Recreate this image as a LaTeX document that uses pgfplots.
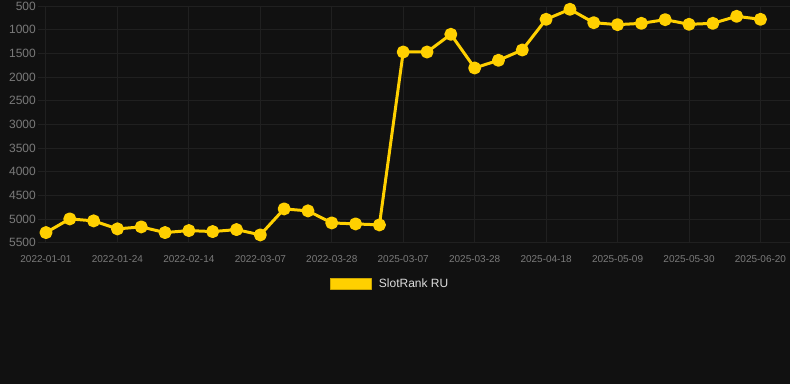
\documentclass[border=0pt]{standalone}
\usepackage{fontspec}
\setmainfont{Liberation Sans}
\usepackage{pgfplots}
\usepackage{pgfplotstable}
\pgfplotsset{compat=1.18}
\definecolor{bg}{HTML}{111111}
\definecolor{gold}{HTML}{FFD000}
\definecolor{gridc}{HTML}{202020}
\definecolor{tickc}{HTML}{7A7A7A}
\definecolor{legc}{HTML}{DDDDDD}
\pgfplotstableread{
idx rank
0 5283
1 4994
2 5036
3 5205
4 5163
5 5283
6 5241
7 5262
8 5220
9 5332
10 4783
11 4825
12 5079
13 5100
14 5121
15 1471
16 1471
17 1098
18 1808
19 1646
20 1428
21 781
22 570
23 852
24 894
25 866
26 788
27 887
28 866
29 718
30 781
}\datatable
\begin{document}
\begin{tikzpicture}[x=1pt,y=1pt]
\fill[bg] (0,0) rectangle (790,384);
\begin{axis}[
  at={(38pt,141pt)}, anchor=south west,
  scale only axis, width=752pt, height=237pt,
  xmin=-0.336, xmax=31.22, ymin=500, ymax=5500, y dir=reverse,
  axis line style={draw=none},
  xtick={0,3,...,30},
  xticklabels={2022-01-01,2022-01-24,2022-02-14,2022-03-07,2022-03-28,2025-03-07,2025-03-28,2025-04-18,2025-05-09,2025-05-30,2025-06-20},
  ytick={500,1000,...,5500},
  major tick length=0pt,
  xmajorgrids, ymajorgrids,
  grid style={draw=gridc, line width=1pt},
  /pgf/number format/assume math mode=true,
  /pgf/number format/1000 sep={},
  xticklabel style={font=\fontsize{10}{12}\selectfont, text=tickc, anchor=base, yshift=-20pt, inner sep=0pt},
  yticklabel style={font=\fontsize{12}{14}\selectfont, text=tickc, anchor=east, inner sep=0pt, xshift=-2pt},
  clip=false,
  legend style={at={(axis description cs:0.4674,-0.173)}, anchor=center, draw=none, fill=none,
    text=legc, font=\fontsize{12}{14}\selectfont, nodes={inner sep=0pt}},
  legend image code/.code={\fill[gold, draw=gold!80!black, line width=0.5pt] (0pt,-5.5pt) rectangle (41pt,5.5pt); \path (47pt,0pt);},
]
\addplot[gold, line width=3pt, line join=round, mark=*, mark size=5pt, mark options={fill=gold, draw=none, solid}] table[x=idx, y=rank] {\datatable};
\addlegendentry{SlotRank RU}
\end{axis}
\end{tikzpicture}
\end{document}
